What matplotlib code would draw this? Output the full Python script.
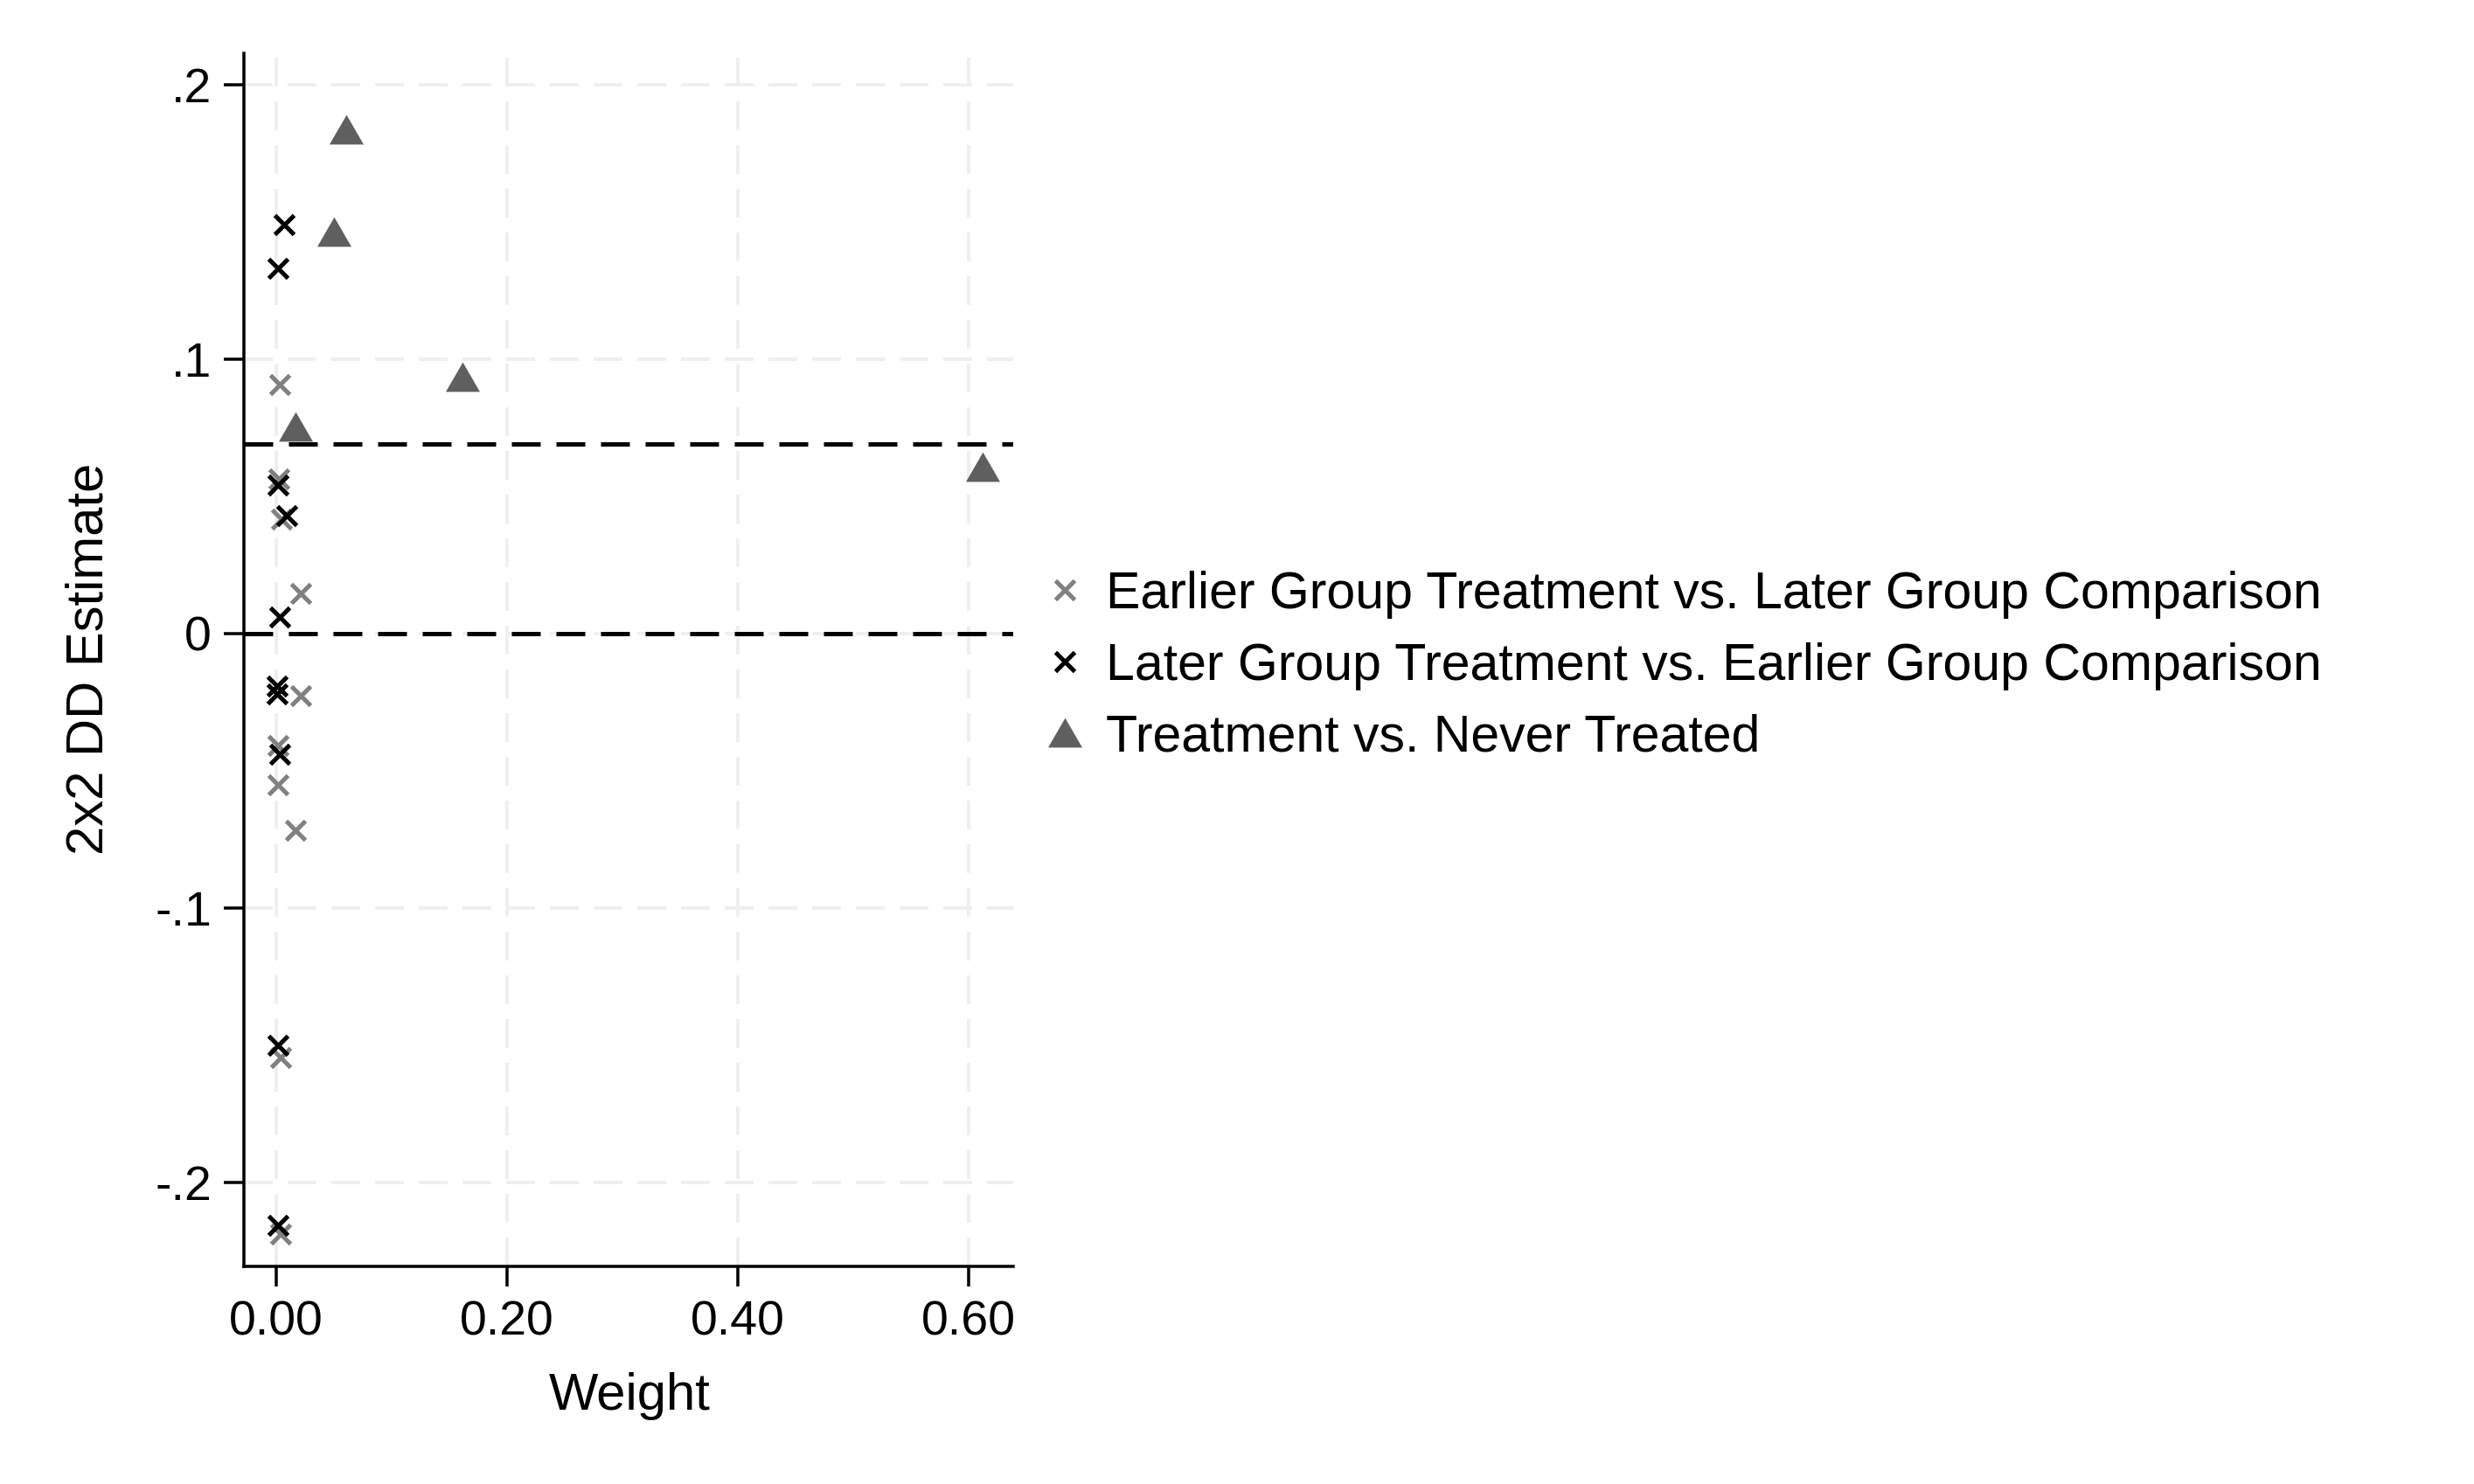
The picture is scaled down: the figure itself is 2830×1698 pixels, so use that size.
import matplotlib
matplotlib.use("Agg")
import matplotlib.pyplot as plt
from matplotlib.lines import Line2D

plt.rcParams['font.family'] = ['Liberation Sans', 'DejaVu Sans']

# ---- data ----
earlier_weight = [0.0034, 0.0025, 0.0048, 0.0215, 0.0215, 0.0015, 0.0015, 0.0164, 0.0040, 0.0040]
earlier_est    = [0.0909, 0.0565, 0.0418, 0.0146, -0.0227, -0.0409, -0.0550, -0.0717, -0.1544, -0.2188]

later_weight = [0.0066, 0.0013, 0.0018, 0.0091, 0.0028, 0.0010, 0.0010, 0.0030, 0.0013, 0.0013]
later_est    = [0.149, 0.133, 0.054, 0.043, 0.006, -0.019, -0.022, -0.0438, -0.150, -0.2156]

never_weight = [0.0606, 0.0503, 0.161, 0.0169, 0.612]
never_est    = [0.1836, 0.1465, 0.0935, 0.0755, 0.0607]

overall_dd = 0.069

labels = ["Earlier Group Treatment vs. Later Group Comparison",
          "Later Group Treatment vs. Earlier Group Comparison",
          "Treatment vs. Never Treated"]
xticks = [0.0, 0.2, 0.4, 0.6]
xticklabels = ["0.00", "0.20", "0.40", "0.60"]
yticks = [-0.2, -0.1, 0.0, 0.1, 0.2]
yticklabels = ["-.2", "-.1", "0", ".1", ".2"]

W, H = 2830, 1698
DPI = 100
fig = plt.figure(figsize=(W / DPI, H / DPI), dpi=DPI)
ax = fig.add_axes([279 / W, 1 - 1449 / H, (1159 - 279) / W, (1449 - 61) / H])

ax.set_xlim(-0.0280, 0.6386)
ax.set_ylim(-0.23057, 0.21146)

gray_x = '#808080'
tri_c = '#5f5f5f'
tri_marker = [(-1, -0.866), (1, -0.866), (0, 0.866)]

px = 72 / DPI  # points per pixel
lw_grid = 4 * px
ax.set_axisbelow(True)
ax.grid(True, color='#efefef', linewidth=lw_grid, linestyle=(0, (33 * px / lw_grid, 17 * px / lw_grid)))

lw_ref = 5 * px
for yv in [0.0, overall_dd]:
    ax.axhline(yv, color='black', linewidth=lw_ref,
               linestyle=(0, (33 * px / lw_ref, 18 * px / lw_ref)), zorder=1.5)

ms_x = 23 * px
mew_x = 5 * px
ax.plot(earlier_weight, earlier_est, linestyle='none', marker='x', color=gray_x,
        markersize=ms_x, markeredgewidth=mew_x, zorder=3)
ax.plot(later_weight, later_est, linestyle='none', marker='x', color='black',
        markersize=ms_x, markeredgewidth=mew_x, zorder=4)
ax.plot(never_weight, never_est, linestyle='none', marker=tri_marker, color=tri_c,
        markersize=39 * px, markeredgewidth=0, zorder=5)

for s in ['top', 'right']:
    ax.spines[s].set_visible(False)
for s in ['left', 'bottom']:
    ax.spines[s].set_linewidth(3.5 * px)

ax.set_xticks(xticks)
ax.set_xticklabels(xticklabels)
ax.set_yticks(yticks)
ax.set_yticklabels(yticklabels)
ax.tick_params(axis='both', length=23 * px, width=3.5 * px, labelsize=40)
ax.tick_params(axis='y', pad=10)
ax.tick_params(axis='x', pad=11)

fig.text(102 / W, 1 - 754 / H, "2x2 DD Estimate", rotation=90, ha='center', va='center', fontsize=43)
fig.text(720 / W, 1 - 1613 / H, "Weight", ha='center', va='baseline', fontsize=43)

handles = [
    Line2D([], [], linestyle='none', marker='x', color=gray_x, markersize=ms_x, markeredgewidth=mew_x),
    Line2D([], [], linestyle='none', marker='x', color='black', markersize=ms_x, markeredgewidth=mew_x),
    Line2D([], [], linestyle='none', marker=tri_marker, color=tri_c, markersize=39 * px, markeredgewidth=0),
]
fig.legend(handles, labels, loc='upper left', bbox_to_anchor=(1188 / W, 1 - 653 / H),
           frameon=False, fontsize=42.5, handlelength=1.0, handletextpad=0.3,
           borderpad=0, borderaxespad=0, labelspacing=0.45)

fig.savefig("out.png", dpi=DPI, facecolor='white')
